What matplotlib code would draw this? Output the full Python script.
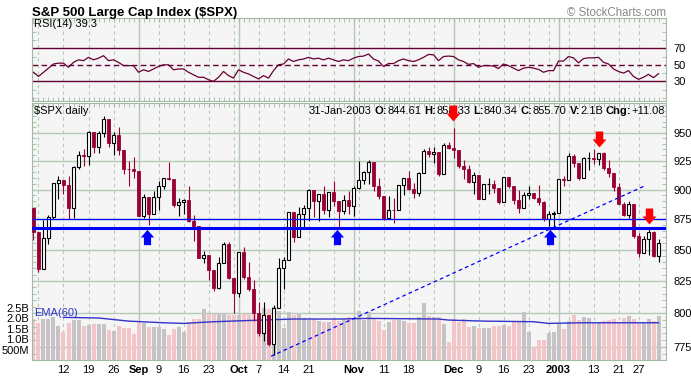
import numpy as np
import matplotlib
matplotlib.use('Agg')
import matplotlib.pyplot as plt
import matplotlib.ticker as mticker
import matplotlib.transforms as mtransforms
from matplotlib.path import Path

plt.rcParams['font.family'] = ['Liberation Sans', 'DejaVu Sans']

# trading day index: 0 = 12-Aug-2002 ... 119 = 31-Jan-2003
day = np.arange(-6, 120)

opens = np.array([
    884.66,
    864.24, 834.60, 859.57, 876.77, 905.46,      # Aug 5
    908.64, 903.80, 884.21, 919.62, 930.25,      # Aug 12
    928.77, 950.70, 937.43, 949.36, 962.70,      # Aug 19
    940.86, 947.95, 934.82, 917.87, 917.80,      # Aug 26
    916.07, 878.02, 893.40, 879.15,              # Sep 3
    893.92, 902.96, 909.58, 909.45, 886.91,      # Sep 9
    889.81, 891.10, 873.52, 869.46, 843.32,      # Sep 16
    845.39, 833.70, 819.29, 839.66, 854.95,      # Sep 23
    827.37, 815.28, 847.91, 827.91, 818.95,      # Sep 30
    800.58, 785.28, 798.55, 776.76, 803.92,      # Oct 7
    835.32, 841.44, 881.27, 860.02, 879.20,      # Oct 14
    884.39, 899.72, 890.16, 896.14, 882.50,      # Oct 21
    897.65, 890.23, 882.15, 890.71, 885.76,      # Oct 28
    900.96, 908.35, 915.39, 923.76, 902.65,      # Nov 4
    894.74, 876.19, 882.95, 882.53, 904.27,      # Nov 11
    909.83, 900.36, 896.74, 914.15, 933.76,      # Nov 18
    930.55, 932.87, 913.31, 938.87,              # Nov 25
    936.31, 934.53, 920.75, 917.58, 906.55,      # Dec 2
    912.23, 892.00, 904.45, 904.96, 901.58,      # Dec 9
    889.48, 910.40, 902.99, 891.12, 884.25,      # Dec 16
    895.76, 897.38, 892.47, 889.66,              # Dec 23
    875.40, 879.39, 879.82, 909.03,              # Dec 30
    908.59, 929.01, 922.93, 909.93, 927.57,      # Jan 6
    927.57, 926.26, 931.66, 918.22, 914.60,      # Jan 13
    901.78, 887.62, 878.36, 887.34,              # Jan 21
    861.40, 847.48, 858.54, 864.36, 844.61])     # Jan 27

highs = np.array([
    884.66,
    864.24, 874.4, 878.7, 905.8, 912.0,
    908.64, 911.7, 920.2, 933.3, 935.4,
    951.2, 950.7, 951.6, 965.0, 962.7,
    950.8, 955.0, 934.8, 924.6, 928.2,
    916.07, 896.1, 893.4, 899.1,
    907.3, 909.9, 924.0, 909.5, 892.8,
    891.8, 902.7, 878.5, 869.5, 849.3,
    845.4, 833.7, 844.2, 856.6, 856.6,
    827.4, 848.0, 851.9, 840.0, 825.9,
    808.9, 808.9, 798.6, 806.5, 843.3,
    844.4, 881.3, 881.3, 885.4, 886.7,
    900.7, 899.7, 896.3, 902.9, 897.7,
    907.4, 890.6, 895.3, 898.8, 903.4,
    924.6, 915.8, 925.7, 923.8, 910.1,
    894.7, 894.3, 892.5, 904.3, 910.1,
    915.9, 905.5, 915.0, 935.1, 937.2,
    937.2, 932.9, 940.4, 941.8,
    954.3, 934.5, 925.3, 921.5, 915.5,
    912.2, 904.9, 909.9, 908.4, 901.6,
    910.4, 911.2, 903.0, 899.2, 897.8,
    902.9, 897.4, 903.9, 890.5,
    882.1, 881.9, 909.1, 911.3,
    931.8, 930.8, 922.9, 928.3, 932.9,
    935.1, 931.7, 932.6, 926.0, 914.6,
    906.0, 889.7, 890.3, 887.4,
    863.9, 860.8, 868.7, 865.5, 858.33])

lows = np.array([
    858.0,
    832.0, 834.6, 854.2, 875.2, 892.0,
    896.0, 875.0, 876.2, 918.0, 920.2,
    920.9, 931.9, 931.6, 946.4, 937.2,
    930.4, 930.4, 913.2, 903.3, 910.0,
    877.5, 875.7, 870.5, 879.1,
    882.9, 900.5, 908.5, 884.8, 877.5,
    879.2, 872.4, 857.4, 843.1, 839.1,
    825.8, 817.4, 818.5, 839.6, 826.4,
    800.2, 812.8, 826.5, 817.3, 794.1,
    782.9, 779.5, 775.8, 768.6, 803.9,
    818.5, 841.4, 856.3, 860.0, 866.6,
    873.1, 877.0, 873.8, 879.6, 877.0,
    886.2, 867.9, 879.2, 879.7, 877.7,
    900.9, 904.9, 905.0, 898.7, 891.6,
    874.6, 876.1, 872.1, 882.5, 895.4,
    899.5, 893.1, 894.9, 914.1, 928.4,
    923.3, 912.1, 913.3, 935.6,
    927.7, 918.7, 909.5, 905.3, 895.9,
    891.6, 892.0, 896.5, 897.3, 887.8,
    889.4, 901.7, 887.8, 880.3, 884.2,
    892.3, 892.3, 887.2, 873.6,
    869.5, 869.5, 879.8, 903.1,
    908.5, 919.9, 908.3, 909.9, 917.0,
    922.1, 921.7, 916.7, 911.0, 899.0,
    887.6, 877.6, 876.0, 859.7,
    844.3, 847.4, 845.9, 843.7, 840.34])

closes = np.array([
    864.24,
    834.60, 859.57, 876.77, 905.46, 908.64,
    903.80, 884.21, 919.62, 930.25, 928.77,
    950.70, 937.43, 949.36, 962.70, 940.86,
    947.95, 934.82, 917.87, 917.80, 916.07,
    878.02, 893.40, 879.15, 893.92,
    902.96, 909.58, 909.45, 886.91, 889.81,
    891.10, 873.52, 869.46, 843.32, 845.39,
    833.70, 819.29, 839.66, 854.95, 827.37,
    815.28, 847.91, 827.91, 818.95, 800.58,
    785.28, 798.55, 776.76, 803.92, 835.32,
    841.44, 881.27, 860.02, 879.20, 884.39,
    899.72, 890.16, 896.14, 882.50, 897.65,
    890.23, 882.15, 890.71, 885.76, 900.96,
    908.35, 915.39, 923.76, 902.65, 894.74,
    876.19, 882.95, 882.53, 904.27, 909.83,
    900.36, 896.74, 914.15, 933.76, 930.55,
    932.87, 913.31, 938.87, 936.31,
    934.53, 920.75, 917.58, 906.55, 912.23,
    892.00, 904.45, 904.96, 901.58, 889.48,
    910.40, 902.99, 891.12, 884.25, 895.76,
    897.38, 892.47, 889.66, 875.40,
    879.39, 879.82, 909.03, 908.59,
    929.01, 922.93, 909.93, 927.57, 927.57,
    926.26, 931.66, 918.22, 914.60, 901.78,
    887.62, 878.36, 887.34, 861.40,
    847.48, 858.54, 864.36, 844.61, 855.70])

# volume in billions of shares
volume = np.array([
    1.96,
    1.79, 1.96, 1.96, 2.05, 1.63,
    1.36, 1.79, 1.92, 1.92, 1.63,
    1.68, 1.72, 1.73, 1.72, 1.44,
    1.39, 1.63, 1.52, 1.52, 1.25,
    1.76, 1.76, 1.60, 1.60,
    1.57, 1.47, 1.20, 1.47, 1.57,
    1.36, 1.84, 1.96, 1.96, 2.44,
    2.20, 2.21, 2.24, 2.27, 2.16,
    2.16, 2.14, 2.20, 2.21, 2.48,
    2.12, 2.48, 2.45, 2.56, 2.36,
    1.55, 2.29, 2.16, 2.27, 2.00,
    1.92, 1.96, 1.89, 1.84, 1.84,
    1.96, 1.89, 1.96, 2.08, 1.96,
    2.36, 1.92, 2.29, 1.96, 1.87,
    1.44, 1.84, 1.92, 1.92, 1.87,
    1.76, 1.79, 2.05, 2.76, 2.12,
    2.05, 2.05, 1.73, 0.88,
    1.97, 1.84, 1.96, 1.60, 1.63,
    1.55, 1.52, 1.52, 1.63, 1.63,
    1.68, 1.63, 1.84, 1.84, 2.29,
    1.36, 0.64, 0.96, 0.96,
    1.31, 1.36, 1.72, 1.47,
    1.89, 2.16, 1.92, 2.08, 2.03,
    1.79, 1.76, 1.87, 1.92, 1.96,
    1.79, 2.03, 2.12, 1.96,
    1.79, 1.79, 1.96, 1.89, 2.12])

rsi = np.array([
    41,
    36, 41, 46, 51, 52,
    52, 47, 53, 56, 55,
    59, 56, 58, 61, 55,
    56, 53, 49, 49, 49,
    41, 44, 42, 45,
    48, 50, 50, 44, 45,
    45, 41, 38, 35, 35,
    32, 30, 35, 42, 37,
    34, 44, 41, 39, 36,
    33, 37, 34, 43, 50,
    51, 57, 54, 56, 57,
    59, 57, 58, 56, 58,
    56, 54, 56, 55, 58,
    60, 60.5, 63, 57, 54.5,
    48, 51.5, 51.5, 55, 57,
    55, 54, 56, 59, 62.5,
    62, 55, 60, 60.5,
    60, 56, 54, 50.5, 51.5,
    47, 49, 49, 48.5, 45.5,
    51, 49, 46, 43, 46,
    47, 46, 44.5, 41,
    43, 43, 54.5, 54.5,
    60, 58.4, 52.4, 57.5, 58.4,
    58.4, 59, 53, 51, 45,
    42, 40, 43, 36,
    32.5, 35, 38.5, 34.5, 39.3])

ema_day = [0, 7, 13, 20, 24, 30, 36, 46, 55, 61, 75, 77, 84, 94, 97, 104, 119]
ema_vol = [2.05, 2.02, 1.87, 1.79, 1.76, 1.84, 1.89, 1.97, 1.97, 2.0, 1.97,
           1.92, 1.87, 1.84, 1.76, 1.79, 1.79]

tick_pos = [0, 5, 10, 15, 19, 24, 29, 35, 39, 44, 49, 58, 64, 69, 78, 83, 88,
            93, 99, 106, 111, 115]
tick_lab = ['12', '19', '26', 'Sep', '9', '16', '23', 'Oct', '7', '14', '21',
            'Nov', '11', '18', 'Dec', '9', '16', '23', '2003', '13', '21', '27']
month_labels = ['Sep', 'Oct', 'Nov', 'Dec', '2003']
week_lines = [-5, 0, 5, 10, 19, 24, 29, 34, 39, 44, 49, 54, 59, 64, 69, 74,
              83, 88, 93, 97, 101, 106, 111, 115]
month_lines = [15, 35, 58, 78, 99]

price_ticks = [775, 800, 825, 850, 875, 900, 925, 950]
price_minor = list(range(770, 980, 5))
vol_ticks = [0.5, 1.0, 1.5, 2.0, 2.5]
vol_labels = ['500M', '1.0B', '1.5B', '2.0B', '2.5B']

support_levels = [875, 868]
trend_x = [41.5, 116.3]
trend_y = [768, 903.3]
buy_x = [16.7, 54.7, 97.3]
buy_y = [860.6, 860.6, 860.6]
sell_x = [77.9, 107, 117]
sell_y = [968, 944.5, 878]

quote_date = '31-Jan-2003'
quote_keys = ['O:', 'H:', 'L:', 'C:', 'V:', 'Chg:']
quote_vals = ['844.61', '858.33', '840.34', '855.70', '2.1B', '+11.08']

PANEL = '#f5f5f5'
GRID = '#b5c9b5'
FRAME = '#a3b9a3'
MAROON = '#660033'
CANDLE_RED = '#990033'
BLUE = '#0000ff'
EMA_C = '#3333cc'

W, H = 691.0, 377.0
fig = plt.figure(figsize=(6.91, 3.77), dpi=100)


def box(left, top, right, bottom):
    return [left / W, 1 - bottom / H, (right - left) / W, (bottom - top) / H]


ax_rsi = fig.add_axes(box(32, 18, 666, 100.5))
ax_vol = fig.add_axes(box(32, 102.5, 666, 360), sharex=ax_rsi)
ax = fig.add_axes(box(32, 102.5, 666, 360), sharex=ax_rsi)
ax.patch.set_visible(False)

for a in (ax_rsi, ax):
    for s in a.spines.values():
        s.set_color(FRAME)
for s in ax_vol.spines.values():
    s.set_visible(False)

# vertical grid
for a in (ax_rsi, ax_vol):
    a.set_facecolor(PANEL)
    for x in week_lines:
        a.axvline(x, color=GRID, lw=0.8, ls=(0, (3, 3)), zorder=0)
    for x in month_lines:
        a.axvline(x, color=GRID, lw=1.0, zorder=0)

# RSI panel
ax_rsi.axhline(70, color=MAROON, lw=1)
ax_rsi.axhline(30, color=MAROON, lw=1)
ax_rsi.axhline(50, color=MAROON, lw=1, ls=(0, (4, 2.5)))
ax_rsi.plot(day, rsi, color=MAROON, lw=0.9)
ax_rsi.set_ylim(7, 106.4)
ax_rsi.set_yticks([30, 50, 70], ['30', '50', '70'])
ax_rsi.set_yticks(range(10, 101, 10), minor=True)
ax_rsi.tick_params(axis='y', which='major', left=False, right=False,
                   labelleft=False, labelright=True, pad=2, labelsize=8)
ax_rsi.tick_params(axis='y', which='minor', left=True, right=True,
                   direction='in', length=3, color=FRAME)
ax_rsi.tick_params(axis='x', which='both', top=True, bottom=True,
                   direction='in', length=3, color=FRAME, labelbottom=False)

# volume overlay
price_rows = mtransforms.blended_transform_factory(ax_vol.transAxes, ax.transData)
for p in price_ticks:
    ax_vol.plot([0, 1], [p, p], transform=price_rows, color=GRID, lw=1, zorder=0)
vol_colors = ['#c6c2c6' if c >= o else '#f2c6c9' for o, c in zip(opens, closes)]
ax_vol.bar(day, volume, width=0.8, color=vol_colors, zorder=1)
ax_vol.plot(ema_day, ema_vol, color=EMA_C, lw=1, zorder=2)
ax_vol.set_ylim(0, 257.5 / 20.8)
ax_vol.set_yticks(vol_ticks, vol_labels)
ax_vol.tick_params(axis='y', length=0, pad=2, labelsize=8)
ax_vol.tick_params(axis='x', which='both', bottom=False, top=False,
                   labelbottom=False)

# candles
up = closes >= opens
dn = ~up
ax.vlines(day[up], lows[up], highs[up], color='black', lw=0.8, zorder=2)
ax.vlines(day[dn], lows[dn], highs[dn], color=CANDLE_RED, lw=0.8, zorder=2)
ax.bar(day[up], closes[up] - opens[up], bottom=opens[up], width=0.7,
       facecolor='white', edgecolor='black', lw=0.8, zorder=3)
ax.bar(day[dn], opens[dn] - closes[dn], bottom=closes[dn], width=0.72,
       facecolor=CANDLE_RED, edgecolor=CANDLE_RED, lw=0.6, zorder=3)

ax.axhline(support_levels[0], color=BLUE, lw=0.9, zorder=4)
ax.axhline(support_levels[1], color=BLUE, lw=2.2, zorder=4)
ax.plot(trend_x, trend_y, color=BLUE, lw=0.9, ls=(0, (3, 2.5)), zorder=4)

arrow = [(-3.5, -7.5), (3.5, -7.5), (3.5, 0), (6.5, 0), (0, 7.5), (-6.5, 0),
         (-3.5, 0), (-3.5, -7.5)]
up_arrow = Path(arrow, closed=True)
down_arrow = Path([(x, -y) for x, y in arrow], closed=True)
ax.plot(buy_x, buy_y, ls='none', marker=up_arrow, ms=11, color=BLUE,
        mec='none', zorder=6)
ax.plot(sell_x, sell_y, ls='none', marker=down_arrow, ms=11.5, color='#ff0000',
        mec='none', zorder=6)

ax.set_yscale('log')
ax.set_ylim(765.3, 977.7)
ax.set_yticks(price_ticks, [str(p) for p in price_ticks])
ax.set_yticks(price_minor, minor=True)
ax.yaxis.set_minor_formatter(mticker.NullFormatter())
ax.tick_params(axis='y', which='major', left=False, right=False,
               labelleft=False, labelright=True, pad=2, labelsize=8)
ax.tick_params(axis='y', which='minor', left=True, right=True,
               direction='in', length=3, color=FRAME)

ax.set_xticks(tick_pos, tick_lab)
ax.set_xticks(day, minor=True)
ax.tick_params(axis='x', which='both', top=True, bottom=False,
               direction='in', length=3, color=FRAME)
ax.tick_params(axis='x', which='major', labelsize=8, pad=3.5)
for lbl in ax.get_xticklabels():
    if lbl.get_text() in month_labels:
        lbl.set_fontweight('bold')
ax.set_xlim(-6.3, 120.5)

# texts
fig.text(32 / W, 1 - 15.7 / H, 'S&P 500 Large Cap Index ($SPX)',
         fontsize=9.5, fontweight='bold', va='baseline')
fig.text(666 / W, 1 - 15.7 / H, '\u00a9 StockCharts.com', fontsize=8.3,
         color='#888888', ha='right', va='baseline')
fig.text(33.5 / W, 1 - 27.3 / H, 'RSI(14) %.1f' % rsi[-1], fontsize=8,
         va='baseline')
fig.text(33.5 / W, 1 - 113.5 / H, '$SPX daily', fontsize=8, va='baseline')
fig.text(34 / W, 1 - 316 / H, 'EMA(60)', fontsize=8, color=EMA_C,
         va='baseline')

r = fig.canvas.get_renderer()
x = 665.0
ty = 1 - 113.5 / H
for key, val in reversed(list(zip(quote_keys, quote_vals))):
    t = ax.text(x / W, ty, val, transform=fig.transFigure, ha='right',
                va='baseline', fontsize=8, zorder=1)
    x -= t.get_window_extent(r).width
    t = ax.text(x / W, ty, key, transform=fig.transFigure, ha='right',
                va='baseline', fontsize=8, fontweight='bold', zorder=1)
    x -= t.get_window_extent(r).width + 3.1
ax.text(x / W, ty, quote_date, transform=fig.transFigure, ha='right',
        va='baseline', fontsize=8, zorder=1)

fig.savefig('out.png', dpi=100, facecolor='white')
